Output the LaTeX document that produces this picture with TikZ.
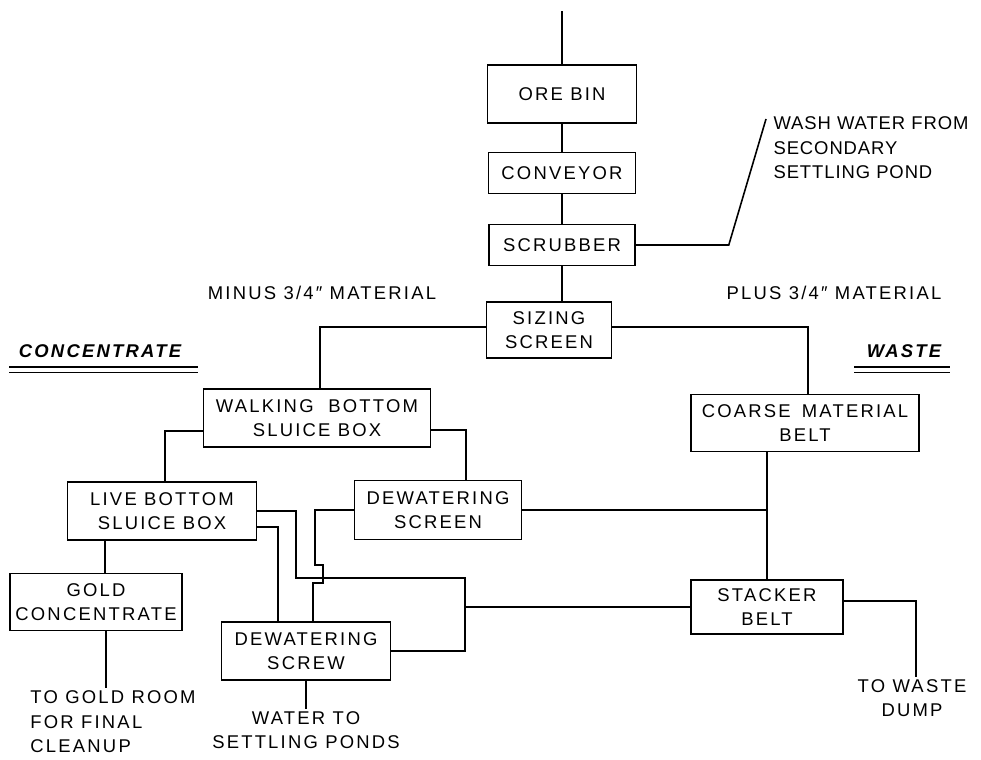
\documentclass[tikz,border=0pt]{standalone}
\usepackage{fontspec}
\setsansfont[LetterSpace=12]{Liberation Sans}
\usetikzlibrary{positioning}

\begin{document}
\begin{tikzpicture}[x=0.02cm, y=-0.02cm,
		line width=0.9pt,
		every node/.style={font=\sffamily\fontsize{10.5}{14}\selectfont, align=center},
		unit/.style={draw, inner sep=2pt},
		note/.style={inner sep=1pt},
		heading/.style={font=\sffamily\itshape\bfseries\fontsize{10.5}{14}\selectfont, inner sep=1pt}]
	
	\useasboundingbox (0,0) rectangle (981,760);
	
	% Main line of units
	\node[unit, minimum width=2.98cm, minimum height=1.16cm] (orebin) at (562,94) {ORE BIN};
	\node[unit, minimum width=2.94cm, minimum height=0.82cm] (conveyor) at (562,173) {CONVEYOR};
	\node[unit, minimum width=2.92cm, minimum height=0.82cm] (scrubber) at (562,245) {SCRUBBER};
	\node[unit, minimum width=2.5cm, minimum height=1.12cm] (sizing) at (549,330) {SIZING\\SCREEN};
	
	% Concentrate side
	\node[unit, minimum width=4.54cm, minimum height=1.16cm] (walking) at (317,418) {WALKING\hspace{0.8em}BOTTOM\\SLUICE BOX};
	\node[unit, minimum width=3.78cm, minimum height=1.16cm] (livebottom) at (162,511) {LIVE BOTTOM\\SLUICE BOX};
	\node[unit, minimum width=3.34cm, minimum height=1.18cm] (dwscreen) at (438,510) {DEWATERING\\SCREEN};
	\node[unit, minimum width=3.44cm, minimum height=1.14cm] (gold) at (96,602) {GOLD\\CONCENTRATE};
	\node[unit, minimum width=3.38cm, minimum height=1.16cm] (dwscrew) at (306,651) {DEWATERING\\SCREW};
	
	% Waste side
	\node[unit, minimum width=4.56cm, minimum height=1.14cm] (coarse) at (805,423) {COARSE\hspace{0.6em}MATERIAL\\BELT};
	\node[unit, minimum width=3.04cm, minimum height=1.08cm] (stacker) at (767,607) {STACKER\\BELT};
	
	% Free texts
	\node[note, anchor=north west, align=left, font=\sffamily\fontsize{10.5}{14}\selectfont\addfontfeatures{LetterSpace=5}] (washwater) at (771,114) {WASH WATER FROM\\SECONDARY\\SETTLING POND};
	\node[note] (minus) at (322,293) {MINUS 3/4″ MATERIAL};
	\node[note] (plus) at (834,293) {PLUS 3/4″ MATERIAL};
	\node[heading] (concentrate) at (100,351) {CONCENTRATE};
	\node[heading] (waste) at (904,351) {WASTE};
	\node[note, align=left] (goldroom) at (113,722) {TO GOLD ROOM\\FOR FINAL\\CLEANUP};
	\node[note] (water) at (306,730) {WATER TO\\SETTLING PONDS};
	\node[note] (dump) at (912,698) {TO WASTE\\DUMP};
	
	% Double underlines of the headings
	\draw[line width=1.1pt] ([xshift=-0.14cm, yshift=-0.14cm]concentrate.south west) -- ([xshift=0.28cm, yshift=-0.14cm]concentrate.south east);
	\draw[line width=0.6pt] ([xshift=-0.14cm, yshift=-0.24cm]concentrate.south west) -- ([xshift=0.28cm, yshift=-0.24cm]concentrate.south east);
	\draw[line width=1.1pt] ([xshift=-0.2cm, yshift=-0.14cm]waste.south west) -- ([xshift=0.12cm, yshift=-0.14cm]waste.south east);
	\draw[line width=0.6pt] ([xshift=-0.2cm, yshift=-0.24cm]waste.south west) -- ([xshift=0.12cm, yshift=-0.24cm]waste.south east);
	
	% Feed and main line
	\draw (orebin.north) -- ++(0,-53);
	\draw (orebin.south) -- (conveyor.north);
	\draw (conveyor.south) -- (scrubber.north);
	\draw (scrubber.south) -- (scrubber.south |- sizing.north);
	\draw (scrubber.east) -- ++(93,0) -- ([xshift=-0.1cm, yshift=-0.1cm]washwater.north west);
	
	% Sizing screen split
	\draw ([yshift=0.06cm]sizing.west) -| ([xshift=0.06cm]walking.north);
	\draw ([yshift=0.06cm]sizing.east) -| ([xshift=0.06cm]coarse.north);
	
	% Sluice boxes
	\draw ([yshift=-0.26cm]walking.west) -| ([xshift=0.06cm]livebottom.north);
	\draw ([yshift=-0.24cm]walking.east) -| ([xshift=0.56cm]dwscreen.north);
	\draw ([xshift=0.18cm]gold.north) -- ([xshift=0.18cm]gold.north |- livebottom.south);
	\draw ([xshift=0.2cm]gold.south) -- ([xshift=0.2cm]gold.south |- goldroom.north);
	
	% Live bottom tailings to the dewatering screw
	\draw (livebottom.east) -- ++(39,0) -- ++(0,67) -- ++(169,0) coordinate (loopcorner) |- (dwscrew.east);
	\draw ([yshift=-0.32cm]livebottom.east) -| ([xshift=-0.56cm]dwscrew.north);
	
	% Dewatering screen underflow, hopping over the loop
	\draw (dwscreen.west) -- ++(-39,0) -- ++(0,55) -- ++(8,0) -- ++(0,18) -- ++(-10,0) -- ++(0,39);
	\draw (dwscrew.south) -- (water.north);
	
	% Waste belts
	\draw (dwscreen.east) -- (dwscreen.east -| stacker.north);
	\draw (coarse.south -| stacker.north) -- (stacker.north);
	\draw (stacker.west) -- (stacker.west -| loopcorner);
	\draw ([yshift=0.12cm]stacker.east) -| ([xshift=0.08cm]dump.north);
	
\end{tikzpicture}
\end{document}
